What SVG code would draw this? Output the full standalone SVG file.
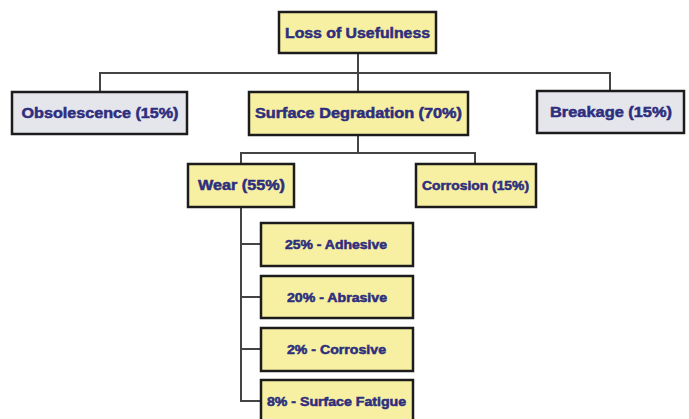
<svg xmlns="http://www.w3.org/2000/svg" width="689" height="419" viewBox="0 0 689 419">
<style>
.box{stroke:#1c1c1c;stroke-width:2.5}
.y{fill:#F7F0A2}
.g{fill:#E5E5EC}
.t{font-family:"Liberation Sans",Arial,sans-serif;font-weight:bold;fill:#2E2E7E;stroke:#2E2E7E;stroke-width:0.5;text-anchor:middle}
.big{font-size:14px}
.sm{font-size:12px}
.c{fill:none;stroke:#444;stroke-width:2}
</style>
<rect width="689" height="419" fill="#ffffff"/>
<g id="connectors">
<path class="c" d="M358 53 V92 M100 92 V73 H610 V91 M358 135 V153 M241 164 V153 H475 V164 M241 207 V401 H261 M241 244 H261 M241 297 H261 M241 349 H261"/>
</g>
<g id="loss"><rect class="box y" x="279" y="12" width="157" height="41"/><text class="t big" x="357.5" y="37.5" textLength="145" lengthAdjust="spacingAndGlyphs">Loss of Usefulness</text></g>
<g id="obsolescence"><rect class="box g" x="12" y="92" width="175" height="42"/><text class="t big" x="100" y="118" textLength="157" lengthAdjust="spacingAndGlyphs">Obsolescence (15%)</text></g>
<g id="surface"><rect class="box y" x="249" y="92" width="219" height="43"/><text class="t big" x="358.5" y="118" textLength="207" lengthAdjust="spacingAndGlyphs">Surface Degradation (70%)</text></g>
<g id="breakage"><rect class="box g" x="537" y="91" width="147" height="42"/><text class="t big" x="611" y="117" textLength="122" lengthAdjust="spacingAndGlyphs">Breakage (15%)</text></g>
<g id="wear"><rect class="box y" x="188" y="164" width="106" height="43"/><text class="t big" x="241.5" y="190" textLength="87" lengthAdjust="spacingAndGlyphs">Wear (55%)</text></g>
<g id="corrosion"><rect class="box y" x="416" y="164" width="120" height="43"/><text class="t sm" x="475.5" y="190" textLength="107" lengthAdjust="spacingAndGlyphs">Corrosion (15%)</text></g>
<g id="adhesive"><rect class="box y" x="261" y="223" width="152" height="43"/><text class="t sm" x="336" y="249" textLength="102" lengthAdjust="spacingAndGlyphs">25% - Adhesive</text></g>
<g id="abrasive"><rect class="box y" x="261" y="276" width="152" height="42"/><text class="t sm" x="337" y="302" textLength="100" lengthAdjust="spacingAndGlyphs">20% - Abrasive</text></g>
<g id="corrosive"><rect class="box y" x="261" y="328" width="152" height="43"/><text class="t sm" x="336.5" y="354" textLength="99" lengthAdjust="spacingAndGlyphs">2% - Corrosive</text></g>
<g id="fatigue"><rect class="box y" x="261" y="380" width="152" height="43"/><text class="t sm" x="336.5" y="406" textLength="139" lengthAdjust="spacingAndGlyphs">8% - Surface Fatigue</text></g>
</svg>
